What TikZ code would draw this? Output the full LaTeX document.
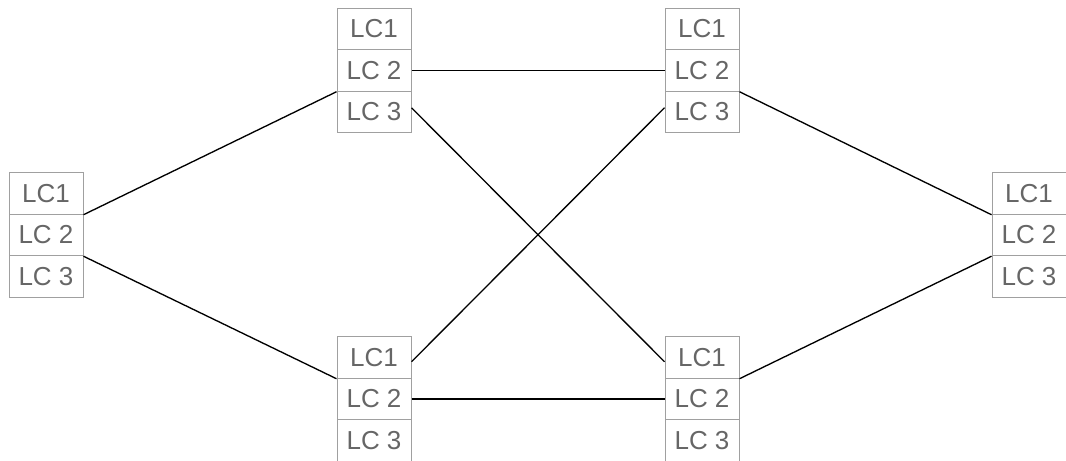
\documentclass[tikz,border=0pt]{standalone}
\usepackage{fontspec}
\setmainfont{Liberation Sans}
\usetikzlibrary{calc}
\definecolor{boxgray}{HTML}{A0A0A0}
\definecolor{textgray}{HTML}{666666}
\tikzset{
  lc/.style={draw=boxgray, line width=0.75pt, rectangle, inner sep=0pt,
    minimum width=55.5pt, minimum height=31.1pt, text=textgray,
    font=\fontsize{19.5pt}{21pt}\selectfont},
  link/.style={draw=black, line width=1pt}
}
% one line card stack: three rows named <prefix>1..3, top row centred at (x,y)
\newcommand{\lcstack}[3]{%
  \node[lc] (#1-1) at (#2,#3) {LC1};
  \node[lc] (#1-2) at (#2,#3+41.5) {LC 2};
  \node[lc] (#1-3) at (#2,#3+83) {LC 3};
}
\begin{document}
\begin{tikzpicture}[x=0.75pt, y=-0.75pt]
  \useasboundingbox (0,0) rectangle (1066,460);
  \clip (0,0) rectangle (1066,460);
  \lcstack{A}{46}{193.5}
  \lcstack{B}{374}{29}
  \lcstack{C}{374}{357.5}
  \lcstack{D}{702}{29}
  \lcstack{E}{702}{357.5}
  \lcstack{F}{1029}{193.5}
  % connections between the stacks
  \draw[link] (A-1.south east) -- (B-2.south west);
  \draw[link] (A-2.south east) -- (C-1.south west);
  \draw[link] (B-2.east) -- (D-2.west);
  \draw[link] ($(B-3.north east)!0.4!(B-3.south east)$) -- ($(E-1.north west)!0.6!(E-1.south west)$);
  \draw[link] ($(C-1.north east)!0.6!(C-1.south east)$) -- ($(D-3.north west)!0.4!(D-3.south west)$);
  \draw[link] (C-2.east) -- (E-2.west);
  \draw[link] (D-2.south east) -- (F-1.south west);
  \draw[link] (E-1.south east) -- (F-2.south west);
\end{tikzpicture}
\end{document}
